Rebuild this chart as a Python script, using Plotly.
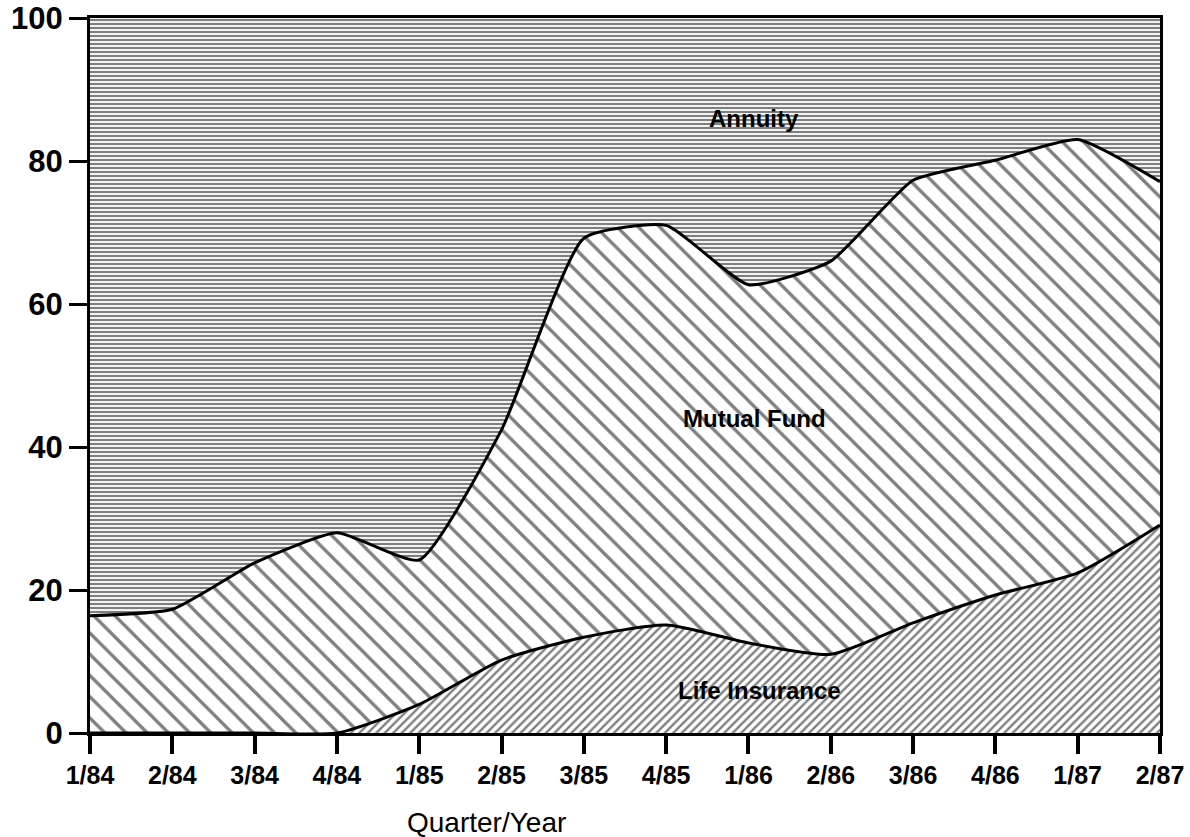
import plotly.graph_objects as go

quarters = ['1/84', '2/84', '3/84', '4/84', '1/85', '2/85', '3/85',
            '4/85', '1/86', '2/86', '3/86', '4/86', '1/87', '2/87']
life_insurance = [0, 0, 0, 0, 4.0, 10.2, 13.4, 15.1, 12.6, 11.0, 15.4, 19.3, 22.4, 29.1]
mutual_fund = [16.4, 17.3, 23.8, 28.0, 20.2, 32.2, 55.8, 55.9, 50.1, 55.0, 61.9, 60.8, 60.6, 48.0]
annuity = [100 - a - b for a, b in zip(life_insurance, mutual_fund)]

x = list(range(len(quarters)))
font = 'Liberation Sans, Arial, Helvetica, sans-serif'

fig = go.Figure()

# stacked areas, hatched like the print
fig.add_trace(go.Scatter(
    x=x, y=life_insurance, stackgroup='one', mode='lines', name='Life Insurance',
    line=dict(color='black', width=3, shape='spline', smoothing=0.6),
    fillcolor='white',
    fillpattern=dict(shape='/', size=6, solidity=0.4, fgcolor='black', bgcolor='white'),
))
fig.add_trace(go.Scatter(
    x=x, y=mutual_fund, stackgroup='one', mode='lines', name='Mutual Fund',
    line=dict(color='black', width=3, shape='spline', smoothing=0.5),
    fillcolor='white',
    fillpattern=dict(shape='\\', size=15, solidity=0.22, fgcolor='black', bgcolor='white'),
))
fig.add_trace(go.Scatter(
    x=x, y=annuity, stackgroup='one', mode='lines', name='Annuity',
    line=dict(color='black', width=0, shape='spline', smoothing=0.5),
    fillcolor='white',
    fillpattern=dict(shape='-', size=4, solidity=0.55, fgcolor='black', bgcolor='white'),
))

# area labels
for text, xi, yi in [('Annuity', 8.07, 86), ('Mutual Fund', 8.07, 44), ('Life Insurance', 8.13, 6)]:
    fig.add_annotation(x=xi, y=yi, text=text, showarrow=False,
                       font=dict(family=font, size=24, color='black', weight='bold'))

# axis title sits left of centre in the original
fig.add_annotation(x=0.371, y=0, xref='paper', yref='paper', yshift=-89,
                   xanchor='center', yanchor='middle', showarrow=False,
                   text='Quarter/Year', font=dict(family=font, size=28, color='black'))

fig.update_layout(
    width=1190, height=837,
    margin=dict(l=90, r=30, t=18, b=104),
    plot_bgcolor='white', paper_bgcolor='white',
    showlegend=False,
    font=dict(family=font, color='black'),
)
fig.update_xaxes(
    range=[0, 13], tickvals=x, ticktext=quarters, automargin=False,
    ticklabeloverflow='allow',
    showgrid=False, zeroline=False,
    showline=True, linecolor='black', linewidth=3, mirror=True,
    ticks='outside', ticklen=18, tickwidth=4, tickcolor='black',
    tickfont=dict(family=font, size=25, color='black', weight='bold'),
)
fig.update_yaxes(
    range=[0, 100], tickvals=[0, 20, 40, 60, 80, 100], automargin=False,
    ticklabeloverflow='allow',
    showgrid=False, zeroline=False,
    showline=True, linecolor='black', linewidth=3, mirror=True,
    ticks='outside', ticklen=18, tickwidth=3, tickcolor='black',
    tickfont=dict(family=font, size=31, color='black', weight='bold'),
)

# drop the page's default body margin so the figure fills the window exactly
fig.write_html('out.html', config={'displayModeBar': False},
               post_script="document.body.style.margin='0';")
